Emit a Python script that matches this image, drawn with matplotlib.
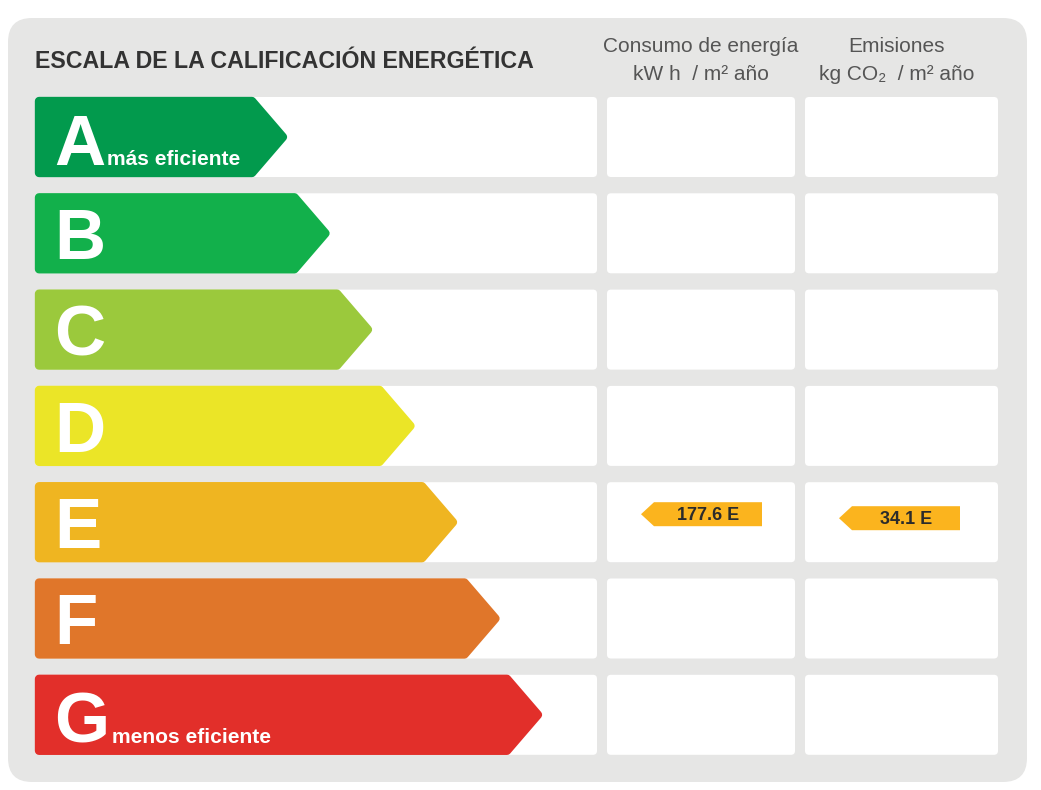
import matplotlib
matplotlib.use('Agg')
import matplotlib.pyplot as plt
from matplotlib.patches import FancyBboxPatch, Polygon

plt.rcParams['font.family'] = ['Liberation Sans', 'DejaVu Sans']

# data
ratings = ['A', 'B', 'C', 'D', 'E', 'F', 'G']
colors = ['#029a4d', '#12b04b', '#9bc93c', '#ebe527', '#efb521', '#e0762a', '#e22f2a']
notes = {'A': 'más eficiente', 'G': 'menos eficiente'}
title = 'ESCALA DE LA CALIFICACIÓN ENERGÉTICA'
col_heads = [['Consumo de energía', 'kW h  / m² año'], ['Emisiones', 'kg CO₂  / m² año']]
consumo_value = 177.6
emisiones_value = 34.1
consumo_class = 'E'
emisiones_class = 'E'

W, H = 1041, 790
fig = plt.figure(figsize=(W / 100, H / 100), dpi=100)
ax = fig.add_axes([0, 0, 1, 1])
ax.set_xlim(0, W)
ax.set_ylim(H, 0)
ax.axis('off')

def rrect(x0, y0, x1, y1, r, fc):
    p = FancyBboxPatch((x0 + r, y0 + r), x1 - x0 - 2 * r, y1 - y0 - 2 * r,
                       boxstyle='round,pad=%g' % r, fc=fc, ec='none')
    ax.add_patch(p)

# grey panel
rrect(8, 18, 1027, 782, 24, '#e6e6e5')

# title + column headers
ax.text(35, 62, title, fontsize=16.7, fontweight='bold', color='#333333',
        va='center', ha='left')
col_cx = [701, 897]
for cx, (l1, l2) in zip(col_cx, col_heads):
    ax.text(cx, 46, l1, fontsize=15, color='#555555', ha='center', va='center')
    ax.text(cx, 75, l2, fontsize=15, color='#555555', ha='center', va='center')

row_top0 = 97
row_h = 80
pitch = 96.3
cols = [(35, 597), (607, 795), (805, 998)]
for i, r in enumerate(ratings):
    y0 = row_top0 + i * pitch
    y1 = y0 + row_h
    for (x0, x1) in cols:
        rrect(x0, y0, x1, y1, 4, 'white')
    # class arrow (thick edge of same colour rounds the corners)
    tip = 288 + i * 42.5
    body = tip - 36
    d = 4
    pts = [(35 + d, y0 + d), (body, y0 + d), (tip - d - 1, (y0 + y1) / 2), (body, y1 - d), (35 + d, y1 - d)]
    ax.add_patch(Polygon(pts, closed=True, fc=colors[i], ec=colors[i], lw=6, joinstyle='round'))
    if r in notes:
        ax.text(54, y1 - 12, r, fontsize=51, fontweight='bold', color='white', ha='left', va='baseline')
        ax.text(107 if r == 'A' else 112, y1 - 12, notes[r], fontsize=15.1, fontweight='bold',
                color='white', ha='left', va='baseline')
    else:
        ax.text(54, y1 - 14, r, fontsize=51, fontweight='bold', color='white', ha='left', va='baseline')

def value_tag(xtip, xend, ymid, label):
    h = 12
    pts = [(xtip, ymid), (xtip + 13, ymid - h), (xend, ymid - h), (xend, ymid + h), (xtip + 13, ymid + h)]
    ax.add_patch(Polygon(pts, closed=True, fc='#fbb41e', ec='none'))
    ax.text((xtip + 13 + xend) / 2, ymid + 1, label, fontsize=13, fontweight='bold',
            color='#2b2b2b', ha='center', va='center')

ci = ratings.index(consumo_class)
ei = ratings.index(emisiones_class)
value_tag(641, 762, row_top0 + ci * pitch + 32, '%.1f %s' % (consumo_value, consumo_class))
value_tag(839, 960, row_top0 + ei * pitch + 36, '%.1f %s' % (emisiones_value, emisiones_class))

fig.savefig('out.png', dpi=100, facecolor='white')
